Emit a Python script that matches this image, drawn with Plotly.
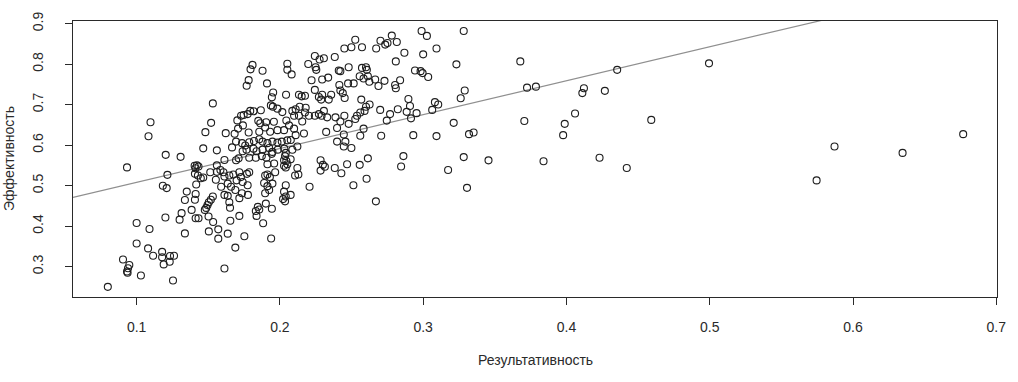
import plotly.graph_objects as go

# Результативность (x) / Эффективность (y)
res_1 = [0.1097,0.1083,0.0933,0.100,0.109,0.100,0.108,0.1115,0.0905,0.0949,0.094,0.0933,0.0937,0.103,0.0799]
eff_1 = [0.6565,0.622,0.545,0.4076,0.393,0.357,0.345,0.327,0.3175,0.304,0.296,0.288,0.285,0.278,0.250]

res_2 = [0.1532,0.152,0.148,0.1465,0.156,0.1203,0.1307,
         0.1405,0.1421,0.1432,0.1411,0.156,0.1407,0.1428,0.1514,0.156,0.1465,0.1448,0.1215,0.1183,0.1210,0.1553,0.1416,0.135,0.1412,0.1337,0.1407,
         0.1532,0.1518,0.1504,0.1495,0.1486,0.1476,
         0.1384,0.1314,0.130,0.1412,0.1432,0.1502,0.1534,0.1201,0.1337,0.1504,0.157,0.157,
         0.1178,0.1178,0.1233,0.1189,0.1231,0.1261,0.1254]
eff_2 = [0.703,0.655,0.632,0.592,0.587,0.576,0.571,
         0.549,0.550,0.547,0.543,0.550,0.529,0.525,0.533,0.534,0.520,0.518,0.5266,0.4995,0.4938,0.5146,0.5026,0.4852,0.4794,0.4643,0.465,
         0.473,0.465,0.459,0.452,0.445,0.440,
         0.440,0.432,0.416,0.4196,0.4196,0.4236,0.410,0.4213,0.382,0.387,0.392,0.369,
         0.3365,0.3231,0.3262,0.3055,0.312,0.327,0.2656]

res_3 = [0.1809,0.1795,0.1879,0.1782,0.1768,0.1910,0.2052,0.2052,0.2043,0.1953,0.1944,0.1937,0.1951,0.1983,0.2017,
         0.1793,0.1816,0.1867,0.1775,0.1729,0.1747,0.1703,0.1742,0.1708,0.1849,0.1863,0.1904,0.1958,0.2045,0.1622,0.1684,
         0.1782,0.1856,0.1897,0.1932,0.1983,0.2029,
         0.1694,0.1736,0.1758,0.1786,0.1819,0.1856,0.1879,0.1913,0.1948,0.1983,0.2013,0.2052,
         0.1740,0.1767,0.1879,0.1925,0.1985,0.2031]
eff_3 = [0.798,0.787,0.7834,0.7604,0.7467,0.7523,0.801,0.786,0.7245,0.730,0.718,0.698,0.695,0.690,0.6815,
         0.6845,0.6837,0.6861,0.6766,0.6726,0.6743,0.661,0.6486,0.6408,0.6599,0.6541,0.6566,0.6576,0.6608,0.6295,0.6279,
         0.6312,0.6328,0.6434,0.6328,0.6369,0.6369,
         0.6086,0.6048,0.599,0.607,0.610,0.6146,0.6086,0.6048,0.6086,0.6062,0.6086,0.6118,
         0.5848,0.5888,0.5888,0.5928,0.5888,0.5912]

res_4 = [0.1666,0.1816,0.1837,0.1948,0.2041,
         0.1613,0.1694,0.1712,0.1786,0.1832,0.1874,0.1906,0.1943,0.2036,0.2052,0.1913,0.1960,
         0.1585,0.1606,0.1613,0.1647,0.1675,0.1717,0.1728,0.1770,0.1786,0.1897,0.1913,0.1967,0.1930,0.2029,0.2041,
         0.1590,0.1636,0.1698,0.1740,0.1659,0.1689,0.1775,0.1890,0.1913,0.1948,0.2041,
         0.1613,0.1636,0.1647,0.1652,0.1735,0.1717,0.1777,0.1897,0.1925,0.2029,0.2022,0.2036,0.1902,0.1944,0.1846,0.1856,0.1832,
         0.1654,0.1717,0.1837,0.1883,0.1636,0.1752,0.1939,0.1689,0.1613]
eff_4 = [0.5944,0.5912,0.5848,0.5832,0.5808,
         0.5633,0.5625,0.5673,0.5689,0.5689,0.5729,0.5689,0.5784,0.5729,0.5529,0.5529,0.5545,
         0.5386,0.5330,0.5226,0.5250,0.5274,0.5330,0.5210,0.5290,0.5330,0.5250,0.5274,0.5330,0.5210,0.5489,0.5449,
         0.4971,0.5050,0.5130,0.5090,0.4971,0.4891,0.5010,0.5066,0.4987,0.5050,0.5010,
         0.4771,0.4747,0.4588,0.4452,0.4811,0.4691,0.4771,0.4811,0.4891,0.4851,0.4667,0.4612,0.4556,0.4428,0.4476,0.4412,0.4372,
         0.4133,0.4252,0.4252,0.4069,0.3814,0.3750,0.3694,0.3470,0.2952]

res_5 = [0.2082,0.2526,0.2450,0.2499,0.2573,0.2672,0.2702,0.2735,0.2751,0.2781,0.2809,
         0.2244,0.2277,0.2307,0.2198,0.2249,0.2254,0.2383,0.2480,0.2573,0.2601,0.2607,0.2411,0.2422,
         0.2221,0.2295,0.2337,0.2415,0.2476,0.2515,0.2557,0.2584,0.2614,0.2624,0.2665,0.2688,0.2730,0.2804,0.2809,
         0.2133,0.2152,0.2175,0.2244,0.2272,0.2295,0.2358,0.2341,0.2288,0.2422,0.2439,0.2452,0.2568,0.2626,0.2601,0.2700,0.2769,0.2823,
         0.2087,0.2110,0.2138,0.2180,0.2175,0.2203,0.2133,0.2099,0.2156,
         0.2244,0.2272,0.2307,0.2291,0.2330,0.2388,0.2450,0.2480,0.2538,0.2561,0.2591,0.2526,0.2422,0.2323,0.2168,
         0.2746,0.2399,0.2561,0.2399,0.2457,0.2446,0.2499,0.2446,0.2584,0.2707,
         0.2064,0.2099,0.2110,0.2076,0.2122,0.2087]
eff_5 = [0.7746,0.860,0.8385,0.8417,0.8417,0.8385,0.8576,0.8481,0.8521,0.8704,0.8066,
         0.8201,0.8113,0.8145,0.8002,0.7922,0.7858,0.8177,0.7922,0.7906,0.7922,0.7858,0.7842,0.7826,
         0.7603,0.7619,0.7667,0.7483,0.7523,0.7523,0.7699,0.7643,0.7699,0.7563,0.7619,0.7459,0.7587,0.7483,0.7403,
         0.7244,0.7204,0.7220,0.7363,0.7188,0.7244,0.7244,0.7124,0.7124,0.7347,0.7284,0.7164,0.7124,0.7004,0.6948,0.6869,0.6765,0.6885,
         0.6845,0.6885,0.6948,0.6924,0.6805,0.6725,0.6725,0.6725,0.6581,
         0.6725,0.6765,0.6845,0.6725,0.6685,0.6685,0.6725,0.6525,0.6725,0.6805,0.6845,0.6645,0.6581,0.6326,0.6286,
         0.6605,0.6422,0.6230,0.6086,0.6086,0.5967,0.5927,0.6262,0.6406,0.6230,
         0.6486,0.6406,0.6246,0.6127,0.5967,0.5887]

res_6 = [0.2029,0.2045,0.2075,0.2122,0.2106,0.2129,0.2284,0.2300,0.2314,0.2284,0.2383,0.2429,0.2469,0.2557,0.2614,
         0.2605,0.2513,0.2207,0.2041,0.2075,0.2670]
eff_6 = [0.5625,0.5609,0.5649,0.5433,0.5250,0.5274,0.5625,0.5513,0.5465,0.5370,0.5433,0.5306,0.5529,0.5513,0.5673,
         0.5170,0.5010,0.4971,0.4731,0.4771,0.4612]

res_7 = [0.2816,0.2989,0.3026,0.3283,0.2869,0.3000,0.3093,0.3232,0.3678,0.2943,0.2982,0.2996,0.3035,0.2839,0.3290,
         0.3262,0.3725,0.3787,0.4122,0.4111,0.2897,0.2908,0.2885,0.2954,0.2915,0.3082,0.3105,0.3063,0.3213,0.3706,
         0.4060,0.3988,0.3977,0.2931,0.3093,0.3320,0.3352,0.2862,0.2846,0.3283,0.3456,0.3840,0.3174,0.3306]
eff_7 = [0.8544,0.8816,0.8696,0.8816,0.8281,0.8241,0.8385,0.7994,0.8066,0.7842,0.7826,0.7778,0.7683,0.7603,0.7347,
         0.7156,0.7419,0.7443,0.7403,0.7284,0.7140,0.6964,0.6821,0.6789,0.6661,0.7060,0.7004,0.6869,0.6549,0.6597,
         0.6781,0.6525,0.6246,0.6246,0.6222,0.6270,0.6310,0.5728,0.5472,0.5704,0.5624,0.5600,0.5384,0.4945]

res_8 = [0.4268,0.4354,0.4995,0.4592,0.4231,0.4421,0.5871,0.5746,0.6346,0.6769]
eff_8 = [0.7340,0.7858,0.8018,0.6622,0.5688,0.5433,0.5967,0.5129,0.5808,0.6271]

# Regression line
line_intercept = 0.4245
line_slope = 0.8363

x_ticks = [0.1, 0.2, 0.3, 0.4, 0.5, 0.6, 0.7]
y_ticks = [0.3, 0.4, 0.5, 0.6, 0.7, 0.8, 0.9]
x_title = "Результативность"
y_title = "Эффективность"

res = res_1 + res_2 + res_3 + res_4 + res_5 + res_6 + res_7 + res_8
eff = eff_1 + eff_2 + eff_3 + eff_4 + eff_5 + eff_6 + eff_7 + eff_8

x_range = [0.0556, 0.7005]
y_range = [0.225, 0.9064]

fig = go.Figure()
line_x = [x_range[0], x_range[1]]
line_y = [line_intercept + line_slope * v for v in line_x]
fig.add_trace(go.Scatter(x=line_x, y=line_y, mode="lines",
                         line=dict(color="#8f8f8f", width=1.2), hoverinfo="skip"))
fig.add_trace(go.Scatter(x=res, y=eff, mode="markers",
                         marker=dict(symbol="circle-open", size=7, color="#1e1e1e",
                                     line=dict(width=1.1, color="#1e1e1e")),
                         cliponaxis=True))

font = dict(family="Liberation Sans, Arial, sans-serif", size=14, color="#2a2a2a")
fig.update_layout(
    width=1018, height=382,
    margin=dict(l=73, r=16, t=12, b=85),
    paper_bgcolor="white", plot_bgcolor="white",
    showlegend=False, font=font,
)
fig.update_xaxes(range=x_range, tickvals=x_ticks, ticktext=[str(v) for v in x_ticks],
                 showgrid=False, zeroline=False, showline=True, mirror=True,
                 linecolor="#2a2a2a", linewidth=1.3, ticks="outside", ticklen=7,
                 tickcolor="#2a2a2a", tickwidth=1.2, ticklabelstandoff=10)
fig.update_yaxes(range=y_range, tickvals=y_ticks, ticktext=[str(v) for v in y_ticks],
                 showgrid=False, zeroline=False, showline=True, mirror=True,
                 linecolor="#2a2a2a", linewidth=1.3, ticks="outside", ticklen=7,
                 tickcolor="#2a2a2a", tickwidth=1.2, tickangle=-90, ticklabelstandoff=16)
fig.add_annotation(text=x_title, xref="paper", yref="paper", x=0.5, y=0,
                   xanchor="center", yanchor="middle", yshift=-63, showarrow=False, font=font)
fig.add_annotation(text=y_title, xref="paper", yref="paper", x=0, y=0.5,
                   xanchor="center", yanchor="middle", xshift=-64, textangle=-90,
                   showarrow=False, font=font)
fig.write_html("out.html", config={"displayModeBar": False},
               post_script="document.body.style.margin='0';document.body.style.overflow='hidden';")
